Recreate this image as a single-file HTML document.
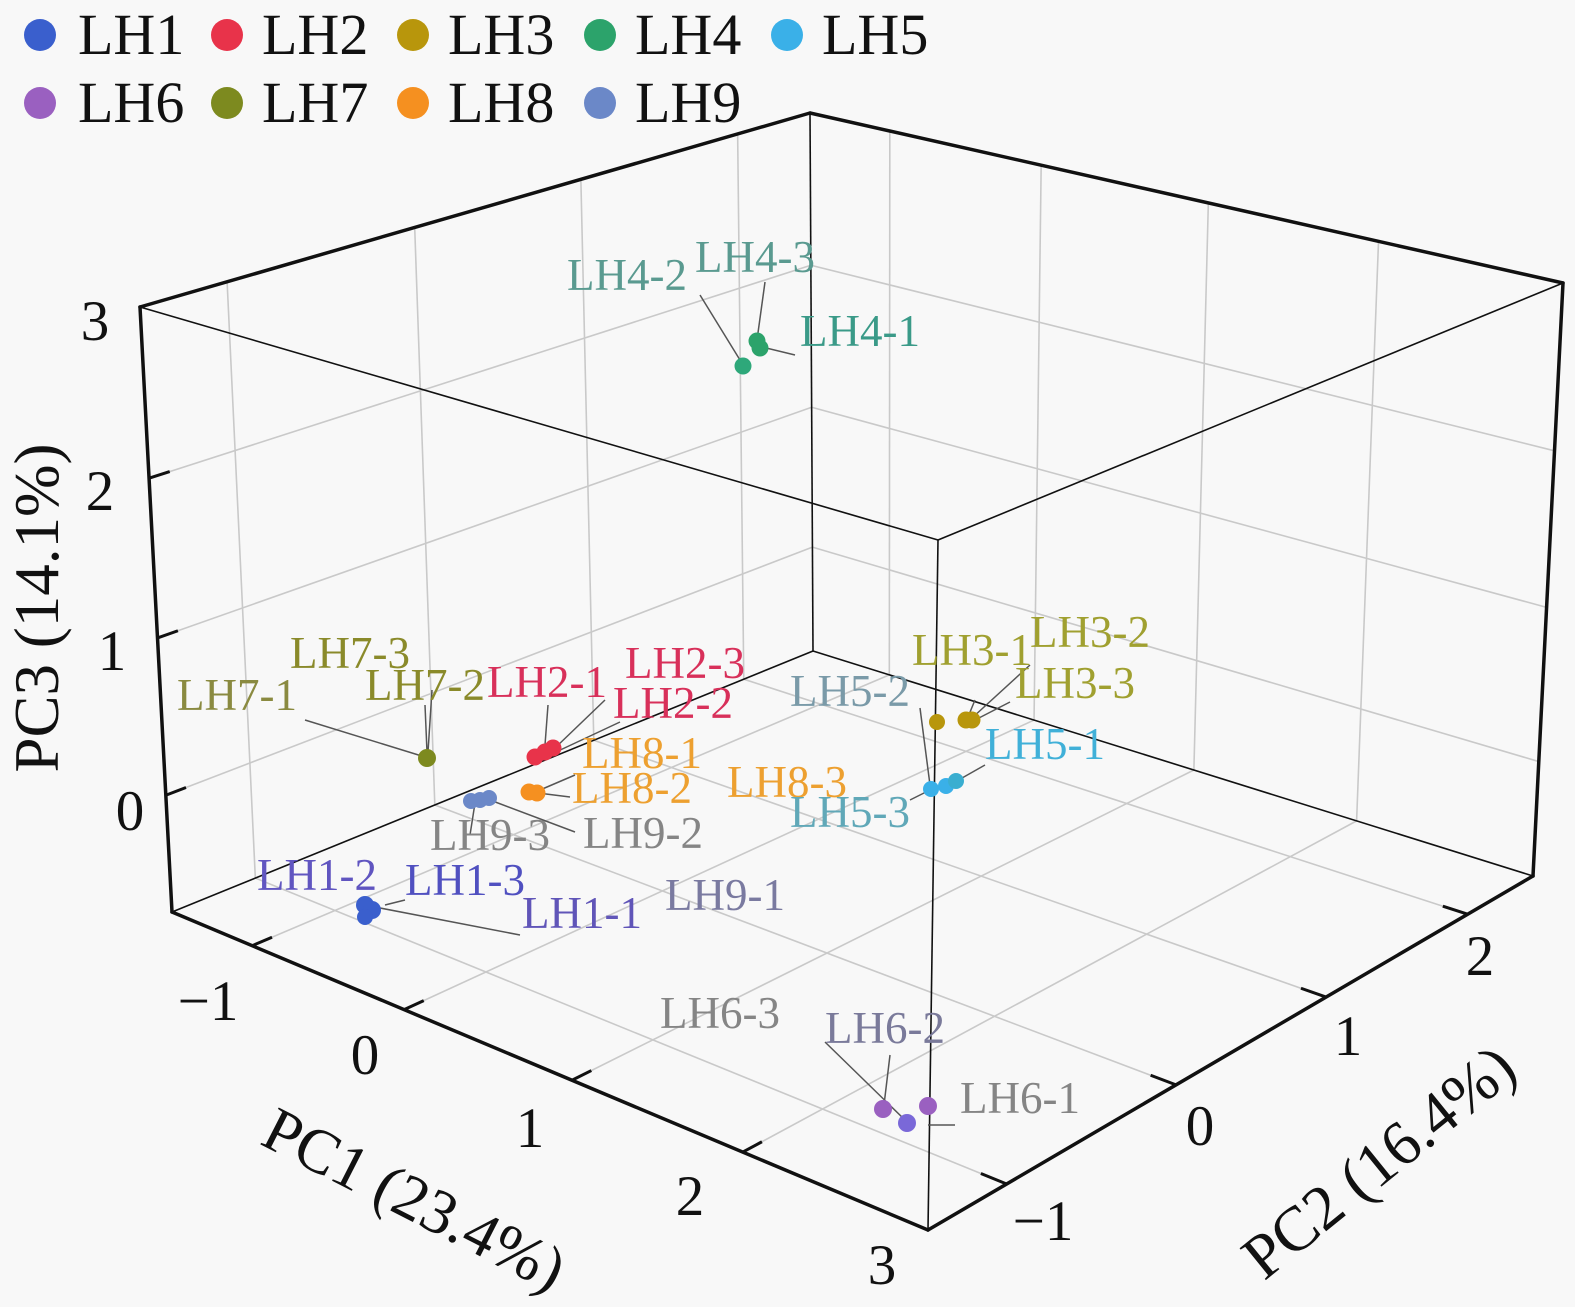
<!DOCTYPE html>
<html><head><meta charset="utf-8">
<style>
html,body{margin:0;padding:0;background:#f8f8f8;}
svg{display:block;}
text{font-family:"Liberation Serif",serif;}
.lg{font-size:58px;fill:#111;}
.tk{font-size:57px;fill:#111;}
.lb{font-size:45px;}
.ti{font-size:63px;fill:#111;}
</style></head>
<body>
<svg id="s" width="1575" height="1307" viewBox="0 0 1575 1307" xmlns="http://www.w3.org/2000/svg">
<rect width="1575" height="1307" fill="#f8f8f8"/>
<g id="grid" stroke="#c9c9c9" stroke-width="1.6" fill="none"></g>
<g id="thin" stroke="#111" stroke-width="1.6" fill="none">
<line x1="140" y1="307" x2="938" y2="540"/>
<line x1="938" y1="540" x2="1563" y2="283"/>
<line x1="938" y1="540" x2="928" y2="1230"/>
<line x1="810" y1="113" x2="813" y2="651"/>
<line x1="813" y1="651" x2="172" y2="912"/>
<line x1="813" y1="651" x2="1533" y2="876"/>
</g>
<g id="ticks" stroke="#111" stroke-width="3" fill="none"></g>
<g stroke="#111" stroke-width="3.5" fill="none" stroke-linecap="round">
<line x1="140" y1="307" x2="810" y2="113"/>
<line x1="810" y1="113" x2="1563" y2="283"/>
<line x1="140" y1="307" x2="172" y2="912"/>
<line x1="1563" y1="283" x2="1533" y2="876"/>
<line x1="172" y1="912" x2="928" y2="1230"/>
<line x1="928" y1="1230" x2="1533" y2="876"/>
</g>
<g stroke="#555" stroke-width="1.5" fill="none">
<line x1="700" y1="295" x2="740" y2="360"/>
<line x1="765" y1="282" x2="757" y2="340"/>
<line x1="795" y1="355" x2="762" y2="347"/>
<line x1="305" y1="720" x2="425" y2="757"/>
<line x1="432" y1="690" x2="428" y2="752"/>
<line x1="425" y1="705" x2="427" y2="752"/>
<line x1="548" y1="705" x2="545" y2="745"/>
<line x1="605" y1="700" x2="555" y2="748"/>
<line x1="620" y1="722" x2="556" y2="752"/>
<line x1="575" y1="775" x2="540" y2="790"/>
<line x1="570" y1="797" x2="538" y2="793"/>
<line x1="575" y1="832" x2="490" y2="800"/>
<line x1="470" y1="835" x2="475" y2="803"/>
<line x1="380" y1="908" x2="520" y2="935"/>
<line x1="385" y1="905" x2="405" y2="900"/>
<line x1="975" y1="700" x2="968" y2="717"/>
<line x1="1030" y1="665" x2="972" y2="718"/>
<line x1="1010" y1="702" x2="975" y2="720"/>
<line x1="920" y1="708" x2="930" y2="785"/>
<line x1="985" y1="765" x2="955" y2="782"/>
<line x1="910" y1="800" x2="930" y2="790"/>
<line x1="825" y1="1042" x2="905" y2="1120"/>
<line x1="890" y1="1055" x2="884" y2="1105"/>
<line x1="955" y1="1125" x2="928" y2="1125"/>
</g>
<g>
<circle cx="365" cy="905" r="9" fill="#3a5fcd"/><circle cx="372" cy="910" r="9" fill="#3a5fcd"/><circle cx="365" cy="917" r="8" fill="#3a5fcd"/>
<circle cx="535" cy="757" r="8.5" fill="#e8334a"/><circle cx="545" cy="752" r="8.5" fill="#e8334a"/><circle cx="553" cy="748" r="8.5" fill="#e8334a"/>
<circle cx="937" cy="722" r="8" fill="#b8960c"/><circle cx="966" cy="720" r="8.5" fill="#b8960c"/><circle cx="972" cy="720" r="8.5" fill="#b8960c"/>
<circle cx="743" cy="366" r="8.5" fill="#2ea87a"/><circle cx="757" cy="341" r="8.5" fill="#2ca36b"/><circle cx="760" cy="348" r="8.5" fill="#2ca36b"/>
<circle cx="931" cy="789" r="8" fill="#3ab0e8"/><circle cx="946" cy="786" r="8" fill="#3ab0e8"/><circle cx="956" cy="781" r="8" fill="#3aaed0"/>
<circle cx="883" cy="1109" r="9" fill="#9a60c0"/><circle cx="907" cy="1123" r="9" fill="#7a68d8"/><circle cx="928" cy="1106" r="9" fill="#9a60c0"/>
<circle cx="427" cy="758" r="9" fill="#7d8a1f"/>
<circle cx="529" cy="792" r="8.5" fill="#f59020"/><circle cx="537" cy="793" r="8.5" fill="#f59020"/>
<circle cx="471" cy="801" r="8" fill="#6b88c8"/><circle cx="480" cy="800" r="8" fill="#6b88c8"/><circle cx="489" cy="798" r="8" fill="#6b88c8"/>
</g>
<g class="lb">
<text x="567" y="290" fill="#5a9a90">LH4-2</text>
<text x="695" y="272" fill="#5a9a90">LH4-3</text>
<text x="800" y="346" fill="#3a9a88">LH4-1</text>
<text x="290" y="668" fill="#8a8a2a">LH7-3</text>
<text x="177" y="710" fill="#8a8a40">LH7-1</text>
<text x="365" y="700" fill="#8a8a2a">LH7-2</text>
<text x="487" y="697" fill="#d8305a">LH2-1</text>
<text x="625" y="678" fill="#d8305a">LH2-3</text>
<text x="613" y="718" fill="#d8305a">LH2-2</text>
<text x="582" y="768" fill="#eda030">LH8-1</text>
<text x="572" y="803" fill="#eda030">LH8-2</text>
<text x="727" y="797" fill="#eda030">LH8-3</text>
<text x="430" y="850" fill="#858585">LH9-3</text>
<text x="583" y="848" fill="#858585">LH9-2</text>
<text x="665" y="910" fill="#7a7aa0">LH9-1</text>
<text x="257" y="890" fill="#6055c0">LH1-2</text>
<text x="405" y="895" fill="#5050c0">LH1-3</text>
<text x="522" y="928" fill="#6055b8">LH1-1</text>
<text x="912" y="665" fill="#a0a030">LH3-1</text>
<text x="1030" y="647" fill="#a0a030">LH3-2</text>
<text x="1015" y="698" fill="#a0a030">LH3-3</text>
<text x="790" y="706" fill="#7a9aa8">LH5-2</text>
<text x="985" y="759" fill="#40b0d8">LH5-1</text>
<text x="790" y="827" fill="#60a8b8">LH5-3</text>
<text x="660" y="1028" fill="#858585">LH6-3</text>
<text x="825" y="1043" fill="#7a7a9a">LH6-2</text>
<text x="960" y="1113" fill="#858585">LH6-1</text>
</g>
<g class="tk">
<text x="95" y="340" text-anchor="middle">3</text>
<text x="100" y="510" text-anchor="middle">2</text>
<text x="112" y="670" text-anchor="middle">1</text>
<text x="130" y="830" text-anchor="middle">0</text>
<text x="208" y="1020" text-anchor="middle">−1</text>
<text x="365" y="1074" text-anchor="middle">0</text>
<text x="530" y="1147" text-anchor="middle">1</text>
<text x="690" y="1215" text-anchor="middle">2</text>
<text x="882" y="1284" text-anchor="middle">3</text>
<text x="1480" y="975" text-anchor="middle">2</text>
<text x="1348" y="1055" text-anchor="middle">1</text>
<text x="1200" y="1145" text-anchor="middle">0</text>
<text x="1043" y="1240" text-anchor="middle">−1</text>
</g>
<text class="ti" transform="translate(58,608) rotate(-90)" text-anchor="middle">PC3 (14.1%)</text>
<text class="ti" transform="translate(405,1218) rotate(27)" text-anchor="middle">PC1 (23.4%)</text>
<text class="ti" transform="translate(1392,1178) rotate(-39)" text-anchor="middle">PC2 (16.4%)</text>
<g>
<circle cx="40" cy="35" r="16" fill="#3a5fcd"/><text class="lg" x="78" y="54">LH1</text>
<circle cx="227" cy="35" r="16" fill="#e8334a"/><text class="lg" x="262" y="54">LH2</text>
<circle cx="413" cy="35" r="16" fill="#b8960c"/><text class="lg" x="448" y="54">LH3</text>
<circle cx="600" cy="35" r="16" fill="#2ca36b"/><text class="lg" x="635" y="54">LH4</text>
<circle cx="787" cy="35" r="16" fill="#3ab0e8"/><text class="lg" x="822" y="54">LH5</text>
<circle cx="40" cy="103" r="16" fill="#9a60c0"/><text class="lg" x="78" y="122">LH6</text>
<circle cx="227" cy="103" r="16" fill="#7d8a1f"/><text class="lg" x="262" y="122">LH7</text>
<circle cx="413" cy="103" r="16" fill="#f59020"/><text class="lg" x="448" y="122">LH8</text>
<circle cx="600" cy="103" r="16" fill="#6b88c8"/><text class="lg" x="635" y="122">LH9</text>
</g>
</svg>
<script>
(function(){
function pw(v,ks,ts){for(var i=0;i<ks.length-1;i++){if(v<=ks[i+1]||i==ks.length-2){var f=(v-ks[i])/(ks[i+1]-ks[i]);return ts[i]+f*(ts[i+1]-ts[i]);}}}
function t1(v){return pw(v,[-1.5,-1,0,1,2,3],[0,0.106,0.307,0.529,0.755,1]);}
function t2(v){return pw(v,[-1.5,-1,0,1,2,2.45],[0,0.13,0.41,0.658,0.892,1]);}
function t3(v){return pw(v,[-0.75,0,1,2,3],[0,0.193,0.453,0.717,1]);}
var L=[172,912],F=[928,1230],B=[813,651],R=[1533,876],TL=[140,307],TF=[938,540],TB=[810,113],TR=[1563,283];
function bl(a,b,c,d,u,v){return [(1-u)*(1-v)*a[0]+u*(1-v)*b[0]+(1-u)*v*c[0]+u*v*d[0],(1-u)*(1-v)*a[1]+u*(1-v)*b[1]+(1-u)*v*c[1]+u*v*d[1]];}
function P(x,y,z){var u=t1(x),v=t2(y),w=t3(z);var lo=bl(L,F,B,R,u,v),hi=bl(TL,TF,TB,TR,u,v);return [lo[0]+(hi[0]-lo[0])*w,lo[1]+(hi[1]-lo[1])*w];}
var ns="http://www.w3.org/2000/svg";
function ln(g,a,b){var e=document.createElementNS(ns,"line");e.setAttribute("x1",a[0]);e.setAttribute("y1",a[1]);e.setAttribute("x2",b[0]);e.setAttribute("y2",b[1]);g.appendChild(e);}
var g=document.getElementById("grid"),tk=document.getElementById("ticks");
var x0=-1.5,x1=3,y0=-1.5,y1=2.45,z0=-0.75,z1=3;
[0,1,2].forEach(function(z){ln(g,P(x0,y0,z),P(x0,y1,z));ln(g,P(x0,y1,z),P(x1,y1,z));ln(tk,P(x0,y0,z),P(x0,y0+0.12,z));});
[-1,0,1,2].forEach(function(y){ln(g,P(x0,y,z0),P(x0,y,z1));ln(g,P(x0,y,z0),P(x1,y,z0));ln(tk,P(x1,y,z0),P(x1-0.14,y,z0));});
[-1,0,1,2].forEach(function(x){ln(g,P(x,y1,z0),P(x,y1,z1));ln(g,P(x,y0,z0),P(x,y1,z0));ln(tk,P(x,y0,z0),P(x,y0+0.12,z0));});
})();
</script>
</body></html>
